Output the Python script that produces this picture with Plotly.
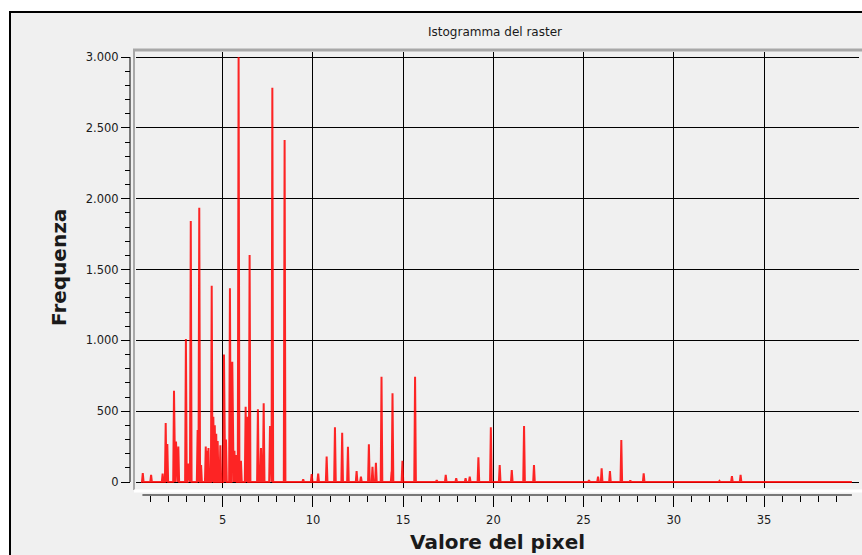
import plotly.graph_objects as go

# Histogram of the raster: pixel value of each occupied bin and its count
pixel_value = [
    0.57, 1.03, 1.67, 1.84, 1.93, 2.30, 2.41, 2.54, 2.96, 3.10, 3.23, 3.61, 3.70,
    3.80, 4.06, 4.13, 4.21, 4.39, 4.48, 4.56, 4.64, 4.72, 4.87, 5.07, 5.18, 5.40,
    5.53, 5.65, 5.74, 5.88, 6.01, 6.27, 6.36, 6.49, 6.95, 7.12, 7.27, 7.62, 7.75,
    8.43, 9.46, 9.93, 10.29, 10.76, 11.22, 11.62, 11.94, 12.42, 12.66, 13.10,
    13.30, 13.49, 13.80, 14.36, 14.41, 14.96, 15.66, 16.86, 17.36, 17.94, 18.46,
    18.69, 19.17, 19.86, 20.35, 21.02, 21.70, 22.25, 25.30, 25.80, 26.00, 26.46,
    27.09, 27.59, 28.33, 32.53, 33.22, 33.70,
]
frequency = [
    63, 50, 60, 416, 268, 644, 285, 250, 1009, 130, 1842, 367, 1936,
    120, 250, 220, 240, 1385, 460, 400, 340, 290, 260, 900, 300, 1367,
    849, 220, 190, 3000, 150, 531, 460, 1602, 513, 240, 555, 395, 2783,
    2414, 20, 56, 60, 180, 386, 348, 249, 78, 37, 266,
    108, 136, 743, 73, 626, 150, 743, 14, 50, 26, 26,
    37, 174, 386, 120, 85, 395, 120, 14, 37, 97, 78,
    296, 10, 61, 8, 42, 50,
]
value_min, value_max = 0.55, 39.87

x_ticks = [5, 10, 15, 20, 25, 30, 35]
x_minor = [v for v in range(1, 40) if v % 5]
y_ticks = [0, 500, 1000, 1500, 2000, 2500, 3000]
y_tick_text = ["0", "500", "1.000", "1.500", "2.000", "2.500", "3.000"]
y_minor = [v for v in range(100, 3000, 100) if v % 500]

# Each bin is drawn as a narrow spike on the zero line
half_bin = 0.045
curve_x, curve_y = [value_min], [0]
for v, f in zip(pixel_value, frequency):
    curve_x += [v - half_bin, v, v + half_bin]
    curve_y += [0, f, 0]
curve_x.append(value_max)
curve_y.append(0)

# Page geometry (pixels)
W, H = 862, 555
ML, MR, MT, MB = 130, 2, 50, 60
PW, PH = W - ML - MR, H - MT - MB


def px(xp):
    return (xp - ML) / PW


def py(yp):
    return (H - MB - yp) / PH


# Pixel <-> data mapping of the scales
X0_PX, X_PER_UNIT = 132.5, 18.044
Y0_PX, Y_PER_UNIT = 482.0, 425.0 / 3000.0


def xdata(xp):
    return (xp - X0_PX) / X_PER_UNIT


def ydata(yp):
    return (Y0_PX - yp) / Y_PER_UNIT


CANVAS_L, CANVAS_R, CANVAS_T, CANVAS_B = 136, 859, 52, 488

fig = go.Figure(
    go.Scatter(
        x=curve_x, y=curve_y, mode="lines",
        line=dict(color="rgba(255,0,0,0.85)", width=2),
        hoverinfo="skip", showlegend=False,
    )
)

tick_font = dict(family="DejaVu Sans", size=11.5, color="#1a1a1a")

fig.update_layout(
    width=W, height=H, autosize=False,
    margin=dict(l=ML, r=MR, t=MT, b=MB, pad=0),
    paper_bgcolor="white",
    plot_bgcolor="rgba(0,0,0,0)",
    showlegend=False,
    xaxis=dict(
        domain=[px(CANVAS_L), px(CANVAS_R)],
        range=[xdata(CANVAS_L), xdata(CANVAS_R)],
        anchor="free", position=0,
        showline=False, zeroline=False,
        showgrid=True, gridcolor="black", gridwidth=1,
        tickmode="array", tickvals=x_ticks, ticktext=[str(v) for v in x_ticks],
        ticks="outside", ticklen=11, tickwidth=1, tickcolor="black",
        ticklabelstandoff=3,
        tickfont=tick_font,
        minor=dict(tickmode="array", tickvals=x_minor, ticks="outside",
                   ticklen=6, tickwidth=1, tickcolor="black", showgrid=False),
    ),
    yaxis=dict(
        domain=[py(CANVAS_B), py(CANVAS_T)],
        range=[ydata(CANVAS_B), ydata(CANVAS_T)],
        anchor="free", position=0,
        showline=False, zeroline=False,
        showgrid=True, gridcolor="black", gridwidth=1,
        tickmode="array", tickvals=y_ticks, ticktext=y_tick_text,
        ticks="outside", ticklen=9, tickwidth=1, tickcolor="black",
        tickfont=tick_font,
        minor=dict(tickmode="array", tickvals=y_minor, ticks="outside",
                   ticklen=5, tickwidth=1, tickcolor="black", showgrid=False),
    ),
    shapes=[
        # window panel
        dict(type="rect", xref="paper", yref="paper", layer="below",
             x0=px(10), x1=px(880), y0=py(580), y1=py(12),
             fillcolor="#f0f0f0", line=dict(color="black", width=2)),
        # sunken canvas frame
        dict(type="line", xref="paper", yref="paper", layer="below",
             x0=px(133), x1=px(862), y0=py(50), y1=py(50),
             line=dict(color="#a8a8a8", width=3)),
        dict(type="line", xref="paper", yref="paper", layer="below",
             x0=px(134), x1=px(134), y0=py(50), y1=py(490),
             line=dict(color="#a8a8a8", width=2)),
        dict(type="line", xref="paper", yref="paper", layer="below",
             x0=px(134), x1=px(862), y0=py(491), y1=py(491),
             line=dict(color="white", width=3)),
        # scale backbones
        dict(type="line", xref="x", yref="paper",
             x0=value_min, x1=value_max, y0=0, y1=0,
             line=dict(color="black", width=1)),
        dict(type="line", xref="paper", yref="y",
             x0=0, x1=0, y0=0, y1=3000,
             line=dict(color="black", width=1)),
    ],
    annotations=[
        dict(text="Istogramma del raster", xref="paper", yref="paper",
             x=px(495), y=py(32), xanchor="center", yanchor="middle",
             showarrow=False, font=dict(family="DejaVu Sans", size=12, color="#1a1a1a")),
        dict(text="<b>Frequenza</b>", xref="paper", yref="paper",
             x=px(59), y=py(268), xanchor="center", yanchor="middle", textangle=-90,
             showarrow=False, font=dict(family="DejaVu Sans", size=20, color="#1a1a1a")),
        dict(text="<b>Valore del pixel</b>", xref="paper", yref="paper",
             x=px(497), y=py(542), xanchor="center", yanchor="middle",
             showarrow=False, font=dict(family="DejaVu Sans", size=20, color="#1a1a1a")),
    ],
)

fig.write_html("out.html")
